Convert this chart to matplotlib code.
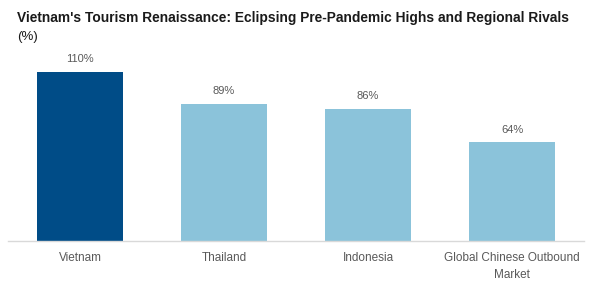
import matplotlib
matplotlib.use("Agg")
import matplotlib.pyplot as plt

categories = ["Vietnam", "Thailand", "Indonesia", "Global Chinese Outbound\nMarket"]
values = [110, 89, 86, 64]
colors = ["#004C87", "#8BC3DA", "#8BC3DA", "#8BC3DA"]

W, H = 594, 288
fig = plt.figure(figsize=(W/100, H/100), dpi=100)
ax = fig.add_axes([8/W, (H-241)/H, (584-8)/W, (241-64)/H])
x = range(len(categories))
ax.bar(x, values, width=0.6, color=colors)
ax.set_xlim(-0.5, len(categories)-0.5)
ax.set_ylim(0, 115)
for xi, v in zip(x, values):
    ax.text(xi, v + 5, f"{v}%", ha="center", va="bottom", fontsize=8, color="#595959",
            family="Liberation Sans")
ax.set_xticks(list(x))
ax.set_xticklabels(categories, fontsize=8.5, color="#595959", family="Liberation Sans",
                   linespacing=1.5)
ax.tick_params(axis="x", length=0, pad=8)
ax.set_yticks([])
for s in ["top", "right", "left"]:
    ax.spines[s].set_visible(False)
ax.spines["bottom"].set_color("#D9D9D9")
ax.spines["bottom"].set_linewidth(1)

fig.text(17/W, 1-18/H, "Vietnam's Tourism Renaissance: Eclipsing Pre-Pandemic Highs and Regional Rivals",
         fontsize=9.9, fontweight="bold", color="#1A1A1A", va="center", ha="left", family="Liberation Sans")
fig.text(17/W, 1-37/H, "(%)", fontsize=9.5, color="#1A1A1A", va="center", ha="left", family="Liberation Sans")

fig.savefig("out.png", dpi=100)
